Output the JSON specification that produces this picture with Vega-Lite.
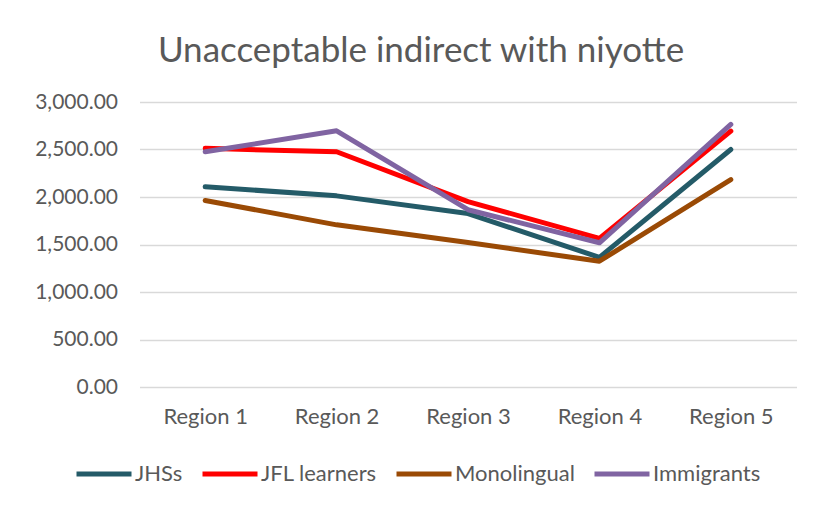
{
  "$schema": "https://vega.github.io/schema/vega-lite/v6.json",
  "width": 657,
  "height": 285,
  "autosize": {"type": "none"},
  "padding": {"left": 139.5, "top": 102, "right": 24.5, "bottom": 123},
  "background": "white",
  "title": {
    "text": "Unacceptable indirect with niyotte",
    "anchor": "middle",
    "dx": -47,
    "offset": 22,
    "fontSize": 35,
    "font": "Lato",
    "fontWeight": "normal",
    "color": "#595959"
  },
  "data": {
    "values": [
      {"region": "Region 1", "group": "JHSs", "value": 2108},
      {"region": "Region 2", "group": "JHSs", "value": 2012},
      {"region": "Region 3", "group": "JHSs", "value": 1826},
      {"region": "Region 4", "group": "JHSs", "value": 1365},
      {"region": "Region 5", "group": "JHSs", "value": 2500},
      {"region": "Region 1", "group": "JFL learners", "value": 2512},
      {"region": "Region 2", "group": "JFL learners", "value": 2476},
      {"region": "Region 3", "group": "JFL learners", "value": 1952},
      {"region": "Region 4", "group": "JFL learners", "value": 1565},
      {"region": "Region 5", "group": "JFL learners", "value": 2693},
      {"region": "Region 1", "group": "Monolingual", "value": 1964},
      {"region": "Region 2", "group": "Monolingual", "value": 1707},
      {"region": "Region 3", "group": "Monolingual", "value": 1520},
      {"region": "Region 4", "group": "Monolingual", "value": 1324},
      {"region": "Region 5", "group": "Monolingual", "value": 2183},
      {"region": "Region 1", "group": "Immigrants", "value": 2476},
      {"region": "Region 2", "group": "Immigrants", "value": 2697},
      {"region": "Region 3", "group": "Immigrants", "value": 1866},
      {"region": "Region 4", "group": "Immigrants", "value": 1518},
      {"region": "Region 5", "group": "Immigrants", "value": 2764}
    ]
  },
  "mark": {"type": "line", "strokeWidth": 5, "strokeCap": "round", "strokeJoin": "round"},
  "encoding": {
    "x": {
      "field": "region",
      "type": "nominal",
      "scale": {"type": "point", "padding": 0.5},
      "axis": {
        "title": null,
        "labelAngle": 0,
        "domain": false,
        "ticks": false,
        "labelPadding": 19,
        "labelFontSize": 22,
        "labelFont": "Lato",
        "labelColor": "#595959"
      }
    },
    "y": {
      "field": "value",
      "type": "quantitative",
      "scale": {"domain": [0, 3000], "nice": false},
      "axis": {
        "title": null,
        "values": [0, 500, 1000, 1500, 2000, 2500, 3000],
        "format": ",.2f",
        "domain": false,
        "ticks": false,
        "labelPadding": 22,
        "labelFontSize": 21,
        "labelFont": "Lato",
        "labelColor": "#595959",
        "gridColor": "#d9d9d9",
        "gridWidth": 1.5
      }
    },
    "color": {
      "field": "group",
      "type": "nominal",
      "sort": ["JHSs", "JFL learners", "Monolingual", "Immigrants"],
      "scale": {
        "domain": ["JHSs", "JFL learners", "Monolingual", "Immigrants"],
        "range": ["#245B68", "#FF0000", "#9A4A05", "#8064A2"]
      },
      "legend": {
        "title": null,
        "orient": "none",
        "direction": "horizontal",
        "legendX": -65.5,
        "legendY": 342,
        "symbolType": "stroke",
        "symbolSize": 3025,
        "symbolStrokeWidth": 5,
        "labelOffset": 1,
        "columnPadding": 9,
        "labelFontSize": 22,
        "labelFont": "Lato",
        "labelColor": "#595959"
      }
    }
  },
  "config": {"view": {"stroke": null}}
}
